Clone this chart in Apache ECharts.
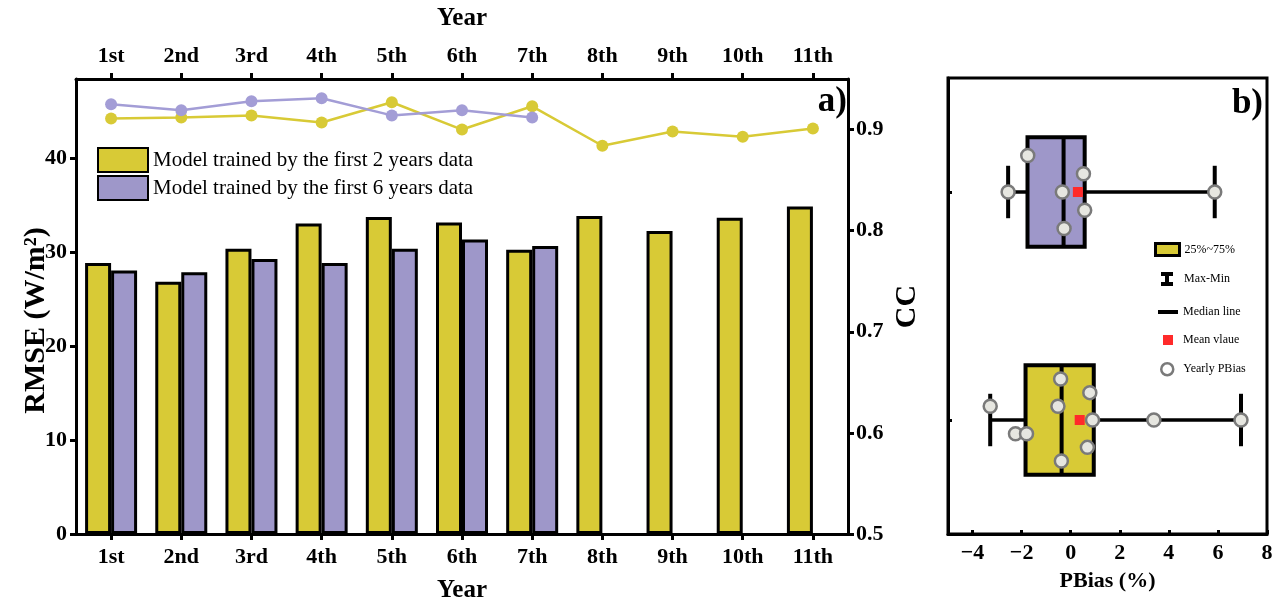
<!DOCTYPE html>
<html>
<head>
<meta charset="utf-8">
<script src="https://cdn.jsdelivr.net/npm/echarts@6/dist/echarts.min.js"></script>
<style>
  html, body { margin: 0; padding: 0; background: #ffffff; }
  #chart { width: 1273px; height: 603px; }
</style>
</head>
<body>
<div id="chart"></div>
<script>
// ---- data ----
const years = ['1st', '2nd', '3rd', '4th', '5th', '6th', '7th', '8th', '9th', '10th', '11th'];
const models = ['Model trained by the first 2 years data', 'Model trained by the first 6 years data'];

// RMSE (W/m2) per year
const rmse2 = [28.9, 26.9, 30.4, 33.1, 33.8, 33.2, 30.3, 33.9, 32.3, 33.7, 34.9];
const rmse6 = [28.1, 27.9, 29.3, 28.9, 30.4, 31.4, 30.7, null, null, null, null];

// correlation coefficient per year
const cc2 = [0.911, 0.912, 0.914, 0.907, 0.927, 0.900, 0.923, 0.884, 0.898, 0.893, 0.901];
const cc6 = [0.925, 0.919, 0.928, 0.931, 0.914, 0.919, 0.912];

const rmseTicks = [0, 10, 20, 30, 40];
const ccTicks = [0.5, 0.6, 0.7, 0.8, 0.9];
const pbiasTicks = [-4, -2, 0, 2, 4, 6, 8];

// yearly PBias (%) for each model
const pbias2 = [-3.28, -0.41, 0.78, -0.52, -2.25, -1.80, 0.89, 3.39, 6.94, 0.68, -0.38];
const pbias6 = [-1.75, 0.52, -2.55, -0.34, 0.57, -0.27, 5.87];
// vertical spread of the yearly dots inside each box (fraction of a band)
const spread2 = [0.06, 0.18, 0.12, 0.06, -0.06, -0.06, 0, 0, 0, -0.12, -0.18];
const spread6 = [0.16, 0.08, 0, 0, -0.08, -0.16, 0];

// box statistics: [min, q1, median, q3, max]
const box2 = [-3.28, -1.84, -0.37, 0.94, 6.94];
const box6 = [-2.55, -1.76, -0.29, 0.57, 5.87];

// ---- style ----
const FONT = 'Liberation Serif';
const YELLOW = '#d8ca36';
const PURPLE = '#9e97c9';
const PURPLE_LINE = '#a39dd6';
const boxColors = [YELLOW, PURPLE];

const mean = a => a.reduce((s, v) => s + v, 0) / a.length;

const tickFont = { fontFamily: FONT, fontWeight: 'bold', fontSize: 22, color: '#000' };
const nameFont = { fontFamily: FONT, fontWeight: 'bold', fontSize: 25, color: '#000' };
const axisLineStyle = { show: true, onZero: false, lineStyle: { color: '#000', width: 3 } };

const chart = echarts.init(document.getElementById('chart'), null, { renderer: 'canvas' });

function boxItem(params, api) {
  const cat = api.value(0);
  const a = api.coord([api.value(2), cat]);
  const b = api.coord([api.value(4), cat]);
  const h = api.size([0, 1])[1] * 0.48;
  return {
    type: 'rect',
    shape: { x: a[0], y: a[1] - h / 2, width: b[0] - a[0], height: h },
    style: { fill: boxColors[cat], stroke: '#000', lineWidth: 4 }
  };
}

function whiskerItem(params, api) {
  const cat = api.value(0);
  const lo = api.coord([api.value(1), cat]);
  const q1 = api.coord([api.value(2), cat]);
  const q3 = api.coord([api.value(4), cat]);
  const hi = api.coord([api.value(5), cat]);
  const c = api.size([0, 1])[1] * 0.115;
  const st = { stroke: '#000', lineWidth: 3.5 };
  return {
    type: 'group',
    children: [
      { type: 'line', shape: { x1: lo[0], y1: lo[1], x2: q1[0], y2: q1[1] }, style: st },
      { type: 'line', shape: { x1: q3[0], y1: q3[1], x2: hi[0], y2: hi[1] }, style: st },
      { type: 'line', shape: { x1: lo[0], y1: lo[1] - c, x2: lo[0], y2: lo[1] + c }, style: { stroke: '#000', lineWidth: 4 } },
      { type: 'line', shape: { x1: hi[0], y1: hi[1] - c, x2: hi[0], y2: hi[1] + c }, style: { stroke: '#000', lineWidth: 4 } }
    ]
  };
}

function medianItem(params, api) {
  const cat = api.value(0);
  const m = api.coord([api.value(3), cat]);
  const h = api.size([0, 1])[1] * 0.48;
  return {
    type: 'line',
    shape: { x1: m[0], y1: m[1] - h / 2, x2: m[0], y2: m[1] + h / 2 },
    style: { stroke: '#000', lineWidth: 4 }
  };
}

const boxData = [[0].concat(box2), [1].concat(box6)];
const boxEncode = { x: [1, 2, 3, 4, 5], y: 0 };

const smallLegend = (name, left, top, w, h, icon, itemStyle, textPad) => ({
  show: true,
  left: left, top: top,
  orient: 'vertical',
  itemWidth: w, itemHeight: h,
  itemGap: 0,
  padding: 0,
  selectedMode: false,
  data: [{ name: name, icon: icon, itemStyle: itemStyle }],
  textStyle: { fontFamily: FONT, fontSize: 12, color: '#000', padding: [0, 0, 0, textPad || 0] }
});

const option = {
  backgroundColor: '#fff',
  animation: false,
  grid: [
    { left: 76, right: 425, top: 79, bottom: 69, outerBoundsMode: 'none' },
    { left: 948, right: 6, top: 78, bottom: 69, show: true, borderColor: '#000', borderWidth: 3, outerBoundsMode: 'none' }
  ],
  legend: [
    {
      show: true,
      left: 97, top: 147,
      orient: 'vertical',
      itemWidth: 50, itemHeight: 24,
      itemGap: 2,
      padding: 0,
      selectedMode: false,
      icon: 'rect',
      data: models,
      textStyle: { fontFamily: FONT, fontSize: 21, color: '#000' }
    },
    smallLegend('25%~75%', 1154, 242, 24, 12, 'rect', { color: YELLOW, borderColor: '#000', borderWidth: 3 }),
    smallLegend('Max-Min', 1161, 272, 20, 14,
      'path://M0,0H12V4H8V10H12V14H0V10H4V4H0Z', { color: '#000' }, 2),
    smallLegend('Median line', 1158, 306, 20, 4, 'rect', { color: '#000' }),
    smallLegend('Mean vlaue', 1163, 334, 20, 10, 'path://M0,0H10V10H0Z', { color: '#ff2a2a' }, 0),
    smallLegend('Yearly PBias', 1160, 362, 20, 12, 'circle', { color: '#fff', borderColor: '#7a7a7a', borderWidth: 2.5 }, 1)
  ],
  xAxis: [
    {
      type: 'category', gridIndex: 0, position: 'bottom', data: years,
      axisLine: axisLineStyle,
      axisTick: { show: true, alignWithLabel: true, length: 6, lineStyle: { color: '#000', width: 3 } },
      axisLabel: Object.assign({ margin: 12 }, tickFont),
      name: 'Year', nameLocation: 'middle', nameGap: 44, nameTextStyle: nameFont
    },
    {
      type: 'category', gridIndex: 0, position: 'top', data: years,
      axisLine: axisLineStyle,
      axisTick: { show: true, alignWithLabel: true, length: 6, lineStyle: { color: '#000', width: 3 } },
      axisLabel: Object.assign({ margin: 12 }, tickFont),
      name: 'Year', nameLocation: 'middle', nameGap: 48, nameTextStyle: nameFont
    },
    {
      type: 'value', gridIndex: 1, position: 'bottom', min: -5, max: 8,
      axisLine: axisLineStyle,
      axisTick: { show: true, inside: true, length: 4, customValues: pbiasTicks, lineStyle: { color: '#000', width: 3 } },
      axisLabel: Object.assign({
        margin: 8, customValues: pbiasTicks,
        formatter: v => (v < 0 ? '\u2212' + Math.abs(v) : String(v))
      }, tickFont),
      splitLine: { show: false },
      name: 'PBias (%)', nameLocation: 'middle', nameGap: 36,
      nameTextStyle: Object.assign({}, nameFont, { fontSize: 22 })
    }
  ],
  yAxis: [
    {
      type: 'value', gridIndex: 0, position: 'left', min: 0, max: 48.5,
      axisLine: axisLineStyle,
      axisTick: { show: true, length: 6, customValues: rmseTicks, lineStyle: { color: '#000', width: 3 } },
      axisLabel: Object.assign({ margin: 9, customValues: rmseTicks }, tickFont),
      splitLine: { show: false },
      name: 'RMSE (W/m\u00B2)', nameLocation: 'middle', nameGap: 25, nameRotate: 90,
      nameMoveOverlap: false,
      nameTextStyle: Object.assign({}, nameFont, { fontSize: 30, padding: [0, 28, 0, 0] })
    },
    {
      type: 'value', gridIndex: 0, position: 'right', min: 0.5, max: 0.95,
      axisLine: axisLineStyle,
      axisTick: { show: true, length: 6, customValues: ccTicks, lineStyle: { color: '#000', width: 3 } },
      axisLabel: Object.assign({ margin: 8, customValues: ccTicks, formatter: v => v.toFixed(1) }, tickFont),
      splitLine: { show: false },
      name: 'CC', nameLocation: 'middle', nameGap: 44, nameRotate: 90,
      nameMoveOverlap: false,
      nameTextStyle: Object.assign({}, nameFont, { fontSize: 30 })
    },
    {
      type: 'category', gridIndex: 1, data: ['2 years', '6 years'],
      axisLine: axisLineStyle,
      axisTick: { show: true, inside: true, alignWithLabel: true, length: 4, lineStyle: { color: '#000', width: 3 } },
      axisLabel: { show: false },
      splitLine: { show: false }
    },
    {
      type: 'value', gridIndex: 1, min: -0.5, max: 1.5, show: false,
      axisLine: { show: false, onZero: false },
      splitLine: { show: false }
    }
  ],
  graphic: [
    { type: 'text', right: 1273 - 847, top: 84, style: { text: 'a)', font: 'bold 35px "Liberation Serif"', fill: '#000' } },
    { type: 'text', right: 1273 - 1263, top: 86, style: { text: 'b)', font: 'bold 35px "Liberation Serif"', fill: '#000' } }
  ],
  series: [
    {
      name: models[0], type: 'bar', xAxisIndex: 0, yAxisIndex: 0, data: rmse2,
      barWidth: 26, barGap: '0%',
      itemStyle: { color: YELLOW, borderColor: '#000', borderWidth: 3 }
    },
    {
      name: models[1], type: 'bar', xAxisIndex: 0, yAxisIndex: 0, data: rmse6,
      barWidth: 26, barGap: '0%',
      itemStyle: { color: PURPLE, borderColor: '#000', borderWidth: 3 }
    },
    {
      name: 'CC (2 years)', type: 'line', xAxisIndex: 0, yAxisIndex: 1, data: cc2, z: 5,
      symbol: 'circle', symbolSize: 12,
      lineStyle: { color: YELLOW, width: 2.5 },
      itemStyle: { color: YELLOW }
    },
    {
      name: 'CC (6 years)', type: 'line', xAxisIndex: 0, yAxisIndex: 1, data: cc6, z: 5,
      symbol: 'circle', symbolSize: 12,
      lineStyle: { color: PURPLE_LINE, width: 2.5 },
      itemStyle: { color: PURPLE_LINE }
    },
    {
      name: '25%~75%', type: 'custom', xAxisIndex: 2, yAxisIndex: 2, z: 2,
      renderItem: boxItem, data: boxData, encode: boxEncode,
      itemStyle: { color: YELLOW }
    },
    {
      name: 'Max-Min', type: 'custom', xAxisIndex: 2, yAxisIndex: 2, z: 3,
      renderItem: whiskerItem, data: boxData, encode: boxEncode,
      itemStyle: { color: '#000' }
    },
    {
      name: 'Median line', type: 'custom', xAxisIndex: 2, yAxisIndex: 2, z: 3,
      renderItem: medianItem, data: boxData, encode: boxEncode,
      itemStyle: { color: '#000' }
    },
    {
      name: 'Mean vlaue', type: 'scatter', xAxisIndex: 2, yAxisIndex: 2, z: 4,
      symbol: 'rect', symbolSize: 10,
      itemStyle: { color: '#ff2a2a', opacity: 1 },
      data: [[mean(pbias2), 0], [mean(pbias6), 1]]
    },
    {
      name: 'Yearly PBias', type: 'scatter', xAxisIndex: 2, yAxisIndex: 3, z: 6,
      symbol: 'circle', symbolSize: 13,
      itemStyle: { color: '#e6e6e0', borderColor: '#7a7a7a', borderWidth: 2.5, opacity: 1 },
      data: pbias2.map((v, i) => [v, 0 + spread2[i]]).concat(pbias6.map((v, i) => [v, 1 + spread6[i]]))
    }
  ]
};

chart.setOption(option);
</script>
</body>
</html>
